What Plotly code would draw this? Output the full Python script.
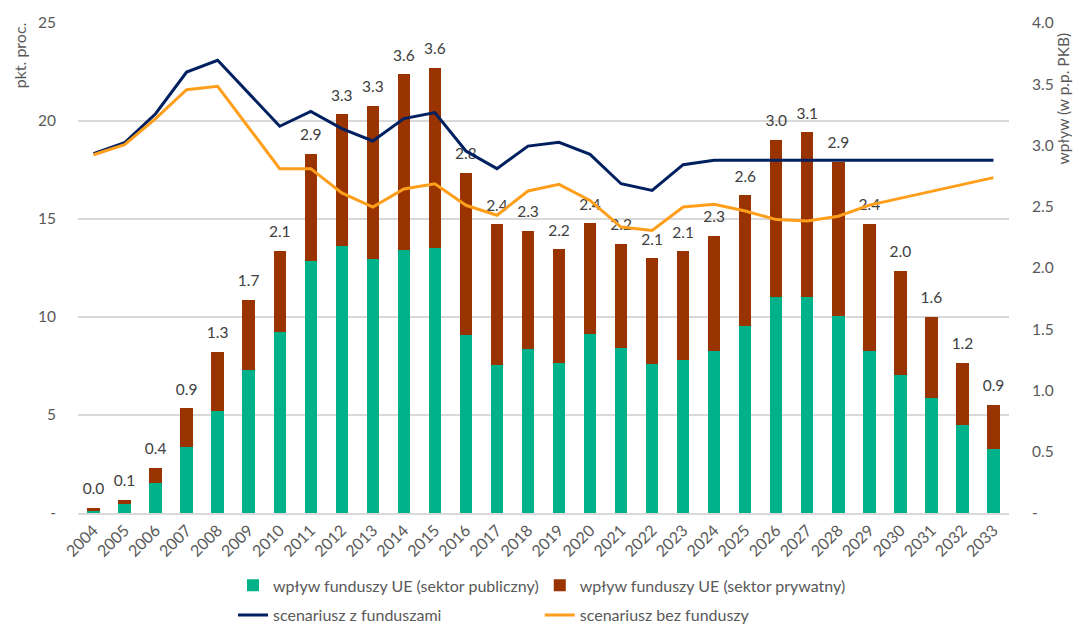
import plotly.graph_objects as go

years = [str(y) for y in range(2004, 2034)]

# bars (right axis, w p.p. PKB)
public_sector = [0.02, 0.07, 0.245, 0.54, 0.83, 1.165, 1.475, 2.06, 2.18, 2.07, 2.15, 2.16,
                 1.455, 1.21, 1.335, 1.225, 1.465, 1.35, 1.22, 1.25, 1.325, 1.53, 1.76, 1.76,
                 1.605, 1.32, 1.13, 0.94, 0.72, 0.52]
private_sector = [0.02, 0.038, 0.125, 0.315, 0.487, 0.574, 0.665, 0.873, 1.075, 1.254, 1.432, 1.472,
                  1.322, 1.148, 0.971, 0.928, 0.90, 0.847, 0.86, 0.887, 0.936, 1.064, 1.285, 1.349,
                  1.263, 1.042, 0.849, 0.664, 0.506, 0.364]

# lines (left axis, pkt. proc.)
with_funds = [18.33, 18.89, 20.37, 22.5, 23.1, 21.39, 19.73, 20.49, 19.61, 18.98, 20.12, 20.43,
              18.47, 17.57, 18.72, 18.91, 18.3, 16.8, 16.46, 17.77, 18.0, 18.0, 18.0, 18.0,
              18.0, 18.0, 18.0, 18.0, 18.0, 18.0]
without_funds = [18.28, 18.79, 20.12, 21.6, 21.77, 19.68, 17.57, 17.57, 16.33, 15.61, 16.53, 16.8,
                 15.7, 15.19, 16.43, 16.77, 15.95, 14.59, 14.42, 15.61, 15.75, 15.41, 14.97, 14.9,
                 15.14, 15.71, 16.06, 16.41, 16.77, 17.11]

left_tickvals = [0, 5, 10, 15, 20, 25]
left_ticktext = ["-", "5", "10", "15", "20", "25"]
right_tickvals = [0, 0.5, 1.0, 1.5, 2.0, 2.5, 3.0, 3.5, 4.0]
right_ticktext = ["-", "0.5", "1.0", "1.5", "2.0", "2.5", "3.0", "3.5", "4.0"]

totals = [a + b for a, b in zip(public_sector, private_sector)]
labels = [f"{t:.1f}" for t in totals]

FONT = "Lato"
GREY = "#595959"

fig = go.Figure()
fig.add_trace(go.Bar(x=years, y=public_sector, name="wpływ funduszy UE (sektor publiczny)",
                     marker=dict(color="#00B189", line=dict(width=0)), yaxis="y",
                     legend="legend", legendgroup="a"))
fig.add_trace(go.Bar(x=years, y=private_sector, name="wpływ funduszy UE (sektor prywatny)",
                     marker=dict(color="#993300", line=dict(width=0)), yaxis="y",
                     legend="legend2", legendgroup="c"))
fig.add_trace(go.Scatter(x=years, y=totals, mode="markers+text", text=labels,
                         textposition="top center",
                         marker=dict(size=14, color="rgba(0,0,0,0)"),
                         textfont=dict(family=FONT, size=15.5, color="#404040"),
                         showlegend=False, yaxis="y", hoverinfo="skip"))
fig.add_trace(go.Scatter(x=years, y=with_funds, mode="lines", name="scenariusz z funduszami",
                         line=dict(color="#002060", width=3), yaxis="y2",
                         legend="legend", legendgroup="b"))
fig.add_trace(go.Scatter(x=years, y=without_funds, mode="lines", name="scenariusz bez funduszy",
                         line=dict(color="#FF9E1B", width=3), yaxis="y2",
                         legend="legend2", legendgroup="d"))

legend_common = dict(orientation="v", traceorder="grouped", tracegroupgap=6,
                     font=dict(family=FONT, size=16, color=GREY),
                     bgcolor="rgba(0,0,0,0)", yanchor="top", y=-0.113, xanchor="left")

fig.update_layout(
    width=1073, height=617,
    margin=dict(l=70, r=72, t=15, b=112, autoexpand=False),
    paper_bgcolor="white", plot_bgcolor="white",
    barmode="stack", bargap=0.6,
    font=dict(family=FONT, size=15, color=GREY),
    xaxis=dict(type="category", range=[-0.5, 29.5], tickangle=-45, showgrid=False,
               showline=True, linecolor="#d9d9d9", linewidth=1.5, ticks="", automargin=False,
               tickfont=dict(family=FONT, size=16, color=GREY)),
    yaxis=dict(side="right", range=[0, 4.0], tickvals=right_tickvals, ticktext=right_ticktext,
               showgrid=False, zeroline=False, ticklabelstandoff=22, automargin=False,
               tickfont=dict(family=FONT, size=15.5, color=GREY)),
    yaxis2=dict(overlaying="y", side="left", range=[0, 25], tickvals=left_tickvals,
                ticktext=left_ticktext, showgrid=True, gridcolor="#d9d9d9", gridwidth=1.5,
                zeroline=False, ticklabelstandoff=21, automargin=False,
                tickfont=dict(family=FONT, size=15.5, color=GREY)),
    legend=dict(x=0.1665, **legend_common),
    legend2=dict(x=0.496, **legend_common),
    annotations=[
        dict(text="pkt. proc.", textangle=-90, xref="paper", yref="paper",
             x=-0.0634, y=0.934, xanchor="center", yanchor="middle", showarrow=False,
             font=dict(family=FONT, size=16, color=GREY)),
        dict(text="wpływ (w p.p. PKB)", textangle=-90, xref="paper", yref="paper",
             x=1.058, y=0.846, xanchor="center", yanchor="middle", showarrow=False,
             font=dict(family=FONT, size=15.5, color=GREY)),
    ],
)

fig.write_html("out.html")
